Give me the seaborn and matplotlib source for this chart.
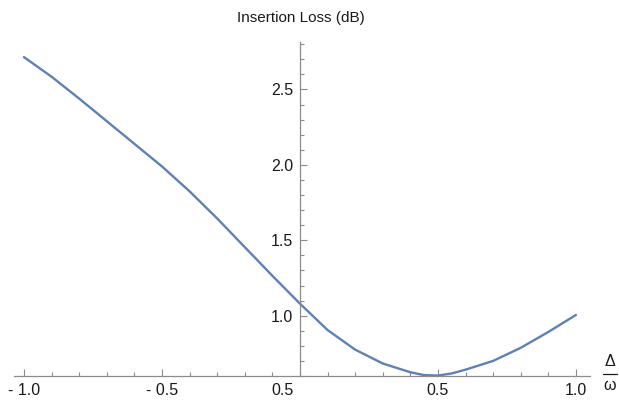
import matplotlib
matplotlib.use('Agg')
import matplotlib.pyplot as plt
from matplotlib.lines import Line2D
from matplotlib.ticker import FixedLocator, MultipleLocator
import pandas as pd
import seaborn as sns

# detuning (Delta / omega) and insertion loss in dB
detuning = [-1.0, -0.9, -0.8, -0.7, -0.6, -0.5, -0.4, -0.3, -0.2, -0.1, 0.0,
            0.1, 0.2, 0.3, 0.4, 0.45, 0.5, 0.55, 0.6, 0.7, 0.8, 0.9, 1.0]
loss_db = [2.715, 2.585, 2.44, 2.29, 2.14, 1.99, 1.825, 1.645, 1.455, 1.265, 1.08,
           0.905, 0.775, 0.683, 0.625, 0.606, 0.603, 0.617, 0.642, 0.70, 0.787,
           0.892, 1.005]
xticks = [-1.0, -0.5, 0.5, 1.0]
xtick_labels = ['- 1.0', '- 0.5', '0.5', '1.0']
yticks = [1.0, 1.5, 2.0, 2.5]
ytick_labels = ['1.0', '1.5', '2.0', '2.5']

df = pd.DataFrame({'d': detuning, 'loss': loss_db})

sns.set_style('white')
plt.rcParams['font.family'] = ['Liberation Sans', 'DejaVu Sans']

fig = plt.figure(figsize=(6.19, 4.0), dpi=100)
ax = fig.add_axes([14 / 619, 24 / 400, 576 / 619, 334 / 400])

sns.lineplot(data=df, x='d', y='loss', ax=ax, color='#5E81B5', linewidth=1.7)

ax.set_xlim(-1.036, 1.051)
ax.set_ylim(0.6, 2.815)

axis_grey = '#8c8c8c'
for side in ['top', 'right']:
    ax.spines[side].set_visible(False)
ax.spines['left'].set_position(('data', 0))
ax.spines['bottom'].set_position(('data', 0.6))
ax.spines['left'].set_color(axis_grey)
ax.spines['bottom'].set_color(axis_grey)
ax.spines['left'].set_linewidth(0.9)
ax.spines['bottom'].set_linewidth(0.9)

ax.xaxis.set_major_locator(FixedLocator(xticks))
ax.set_xticklabels(xtick_labels)
ax.xaxis.set_minor_locator(MultipleLocator(0.1))
ax.yaxis.set_major_locator(FixedLocator(yticks))
ax.set_yticklabels(ytick_labels)
ax.yaxis.set_minor_locator(MultipleLocator(0.1))

ax.tick_params(which='both', direction='in', color=axis_grey, width=0.8,
               bottom=True, left=True, top=False, right=False,
               labelsize=11.5, labelcolor='#1a1a1a', pad=5)
ax.tick_params(which='major', length=5)
ax.tick_params(which='minor', length=2.8)
ax.set_xlabel('')
ax.set_ylabel('')

# origin label as drawn in the reference
ax.text(-0.022, 0.553, '0.5', ha='right', va='top', fontsize=11.5,
        color='#1a1a1a')

# axis labels
fig.text(301 / 619, 1 - 18 / 400, 'Insertion Loss (dB)', ha='center', va='center',
         fontsize=11, color='#1a1a1a')
fig.text(610 / 619, 1 - 361 / 400, 'Δ', ha='center', va='center', fontsize=11.5,
         color='#1a1a1a')
fig.add_artist(Line2D([603 / 619, 617 / 619], [1 - 374 / 400, 1 - 374 / 400],
                      color='#1a1a1a', linewidth=0.9))
fig.text(610 / 619, 1 - 386 / 400, 'ω', ha='center', va='center', fontsize=11.5,
         color='#1a1a1a')

fig.savefig('out.png', dpi=100)
